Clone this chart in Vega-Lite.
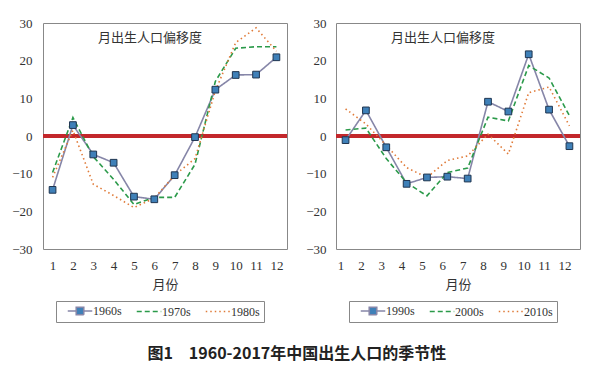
{
  "$schema": "https://vega.github.io/schema/vega-lite/v6.json",
  "background": "white",
  "padding": {"left": 11, "top": 16, "right": 10, "bottom": 5},
  "spacing": 15,
  "title": {"text": "图1　1960-2017年中国出生人口的季节性", "orient": "bottom", "anchor": "middle", "font": "Noto Sans CJK SC", "fontSize": 16, "fontWeight": "bold", "color": "#222", "offset": 23},
  "resolve": {"scale": {"color": "independent", "strokeDash": "independent"}, "legend": {"color": "independent", "strokeDash": "independent"}},
  "hconcat": [
    {
      "width": 244, "height": 226,
      "title": {"text": "月出生人口偏移度", "orient": "top", "anchor": "middle", "offset": -28, "dx": -15, "font": "Noto Sans CJK SC", "fontSize": 13, "fontWeight": "normal", "color": "#333"},
      "data": {"values": [
        {"series": "1960s", "month": 1, "value": -14.3}, {"series": "1960s", "month": 2, "value": 2.9}, {"series": "1960s", "month": 3, "value": -4.9}, {"series": "1960s", "month": 4, "value": -7.1}, {"series": "1960s", "month": 5, "value": -16.1}, {"series": "1960s", "month": 6, "value": -16.8}, {"series": "1960s", "month": 7, "value": -10.4}, {"series": "1960s", "month": 8, "value": -0.3}, {"series": "1960s", "month": 9, "value": 12.3}, {"series": "1960s", "month": 10, "value": 16.2}, {"series": "1960s", "month": 11, "value": 16.3}, {"series": "1960s", "month": 12, "value": 20.9},
        {"series": "1970s", "month": 1, "value": -9.7}, {"series": "1970s", "month": 2, "value": 4.9}, {"series": "1970s", "month": 3, "value": -5.5}, {"series": "1970s", "month": 4, "value": -11.5}, {"series": "1970s", "month": 5, "value": -18.2}, {"series": "1970s", "month": 6, "value": -16.3}, {"series": "1970s", "month": 7, "value": -16.3}, {"series": "1970s", "month": 8, "value": -7.5}, {"series": "1970s", "month": 9, "value": 14.5}, {"series": "1970s", "month": 10, "value": 23.3}, {"series": "1970s", "month": 11, "value": 23.7}, {"series": "1970s", "month": 12, "value": 23.7},
        {"series": "1980s", "month": 1, "value": -11.0}, {"series": "1980s", "month": 2, "value": 1.5}, {"series": "1980s", "month": 3, "value": -12.8}, {"series": "1980s", "month": 4, "value": -15.8}, {"series": "1980s", "month": 5, "value": -19.0}, {"series": "1980s", "month": 6, "value": -16.5}, {"series": "1980s", "month": 7, "value": -10.4}, {"series": "1980s", "month": 8, "value": -6.0}, {"series": "1980s", "month": 9, "value": 12.0}, {"series": "1980s", "month": 10, "value": 24.8}, {"series": "1980s", "month": 11, "value": 28.7}, {"series": "1980s", "month": 12, "value": 22.5}
      ]},
      "layer": [
        {"data": {"values": [{}]}, "mark": {"type": "rule", "color": "#c3272b", "strokeWidth": 4}, "encoding": {"y": {"datum": 0, "type": "quantitative", "scale": {"domain": [-30, 30], "nice": false}}}},
        {
          "mark": {"type": "line", "strokeWidth": 1.6},
          "encoding": {
            "x": {"field": "month", "type": "quantitative", "scale": {"domain": [0.53, 12.52], "nice": false, "zero": false}, "axis": {"values": [1,2,3,4,5,6,7,8,9,10,11,12], "format": "d", "tickCount": 24, "labelOverlap": false, "title": "月份", "labelPadding": 10, "titlePadding": 6}},
            "y": {"field": "value", "type": "quantitative", "scale": {"domain": [-30, 30], "nice": false}, "axis": {"values": [-30,-20,-10,0,10,20,30], "format": "d", "tickCount": 14, "labelOverlap": false, "title": null, "labelPadding": 11}},
            "color": {"field": "series", "type": "nominal", "scale": {"domain": ["1960s","1970s","1980s"], "range": ["#8686a8","#2b9a4a","#e07b39"]},
              "legend": {"orient": "none", "legendX": 13, "legendY": 278, "direction": "horizontal", "title": null, "symbolSize": 100, "symbolStrokeWidth": 1.6, "labelFont": "Liberation Serif", "labelFontSize": 12, "labelColor": "#333", "strokeColor": "#888", "fillColor": "white", "padding": 4, "symbolOffset": 14, "columnPadding": 7, "labelOffset": 7,
                "encode": {"symbols": {"update": {"shape": {"signal": "datum.value === '1960s' ? 'M-2.45,0H-0.75M0.75,0H2.45M-0.75,-0.75H0.75V0.75H-0.75Z' : 'M-2.45,0H2.45'"}, "fill": {"signal": "datum.value === '1960s' ? '#3f80b8' : 'transparent'"}}}}}},
            "strokeDash": {"field": "series", "type": "nominal", "scale": {"domain": ["1960s","1970s","1980s"], "range": [[1,0],[5,3],[1.5,3]]},
              "legend": {"orient": "none", "legendX": 13, "legendY": 278, "direction": "horizontal", "title": null, "symbolSize": 100, "symbolStrokeWidth": 1.6, "labelFont": "Liberation Serif", "labelFontSize": 12, "labelColor": "#333", "strokeColor": "#888", "fillColor": "white", "padding": 4, "symbolOffset": 14, "columnPadding": 7, "labelOffset": 7,
                "encode": {"symbols": {"update": {"shape": {"signal": "datum.value === '1960s' ? 'M-2.45,0H-0.75M0.75,0H2.45M-0.75,-0.75H0.75V0.75H-0.75Z' : 'M-2.45,0H2.45'"}, "fill": {"signal": "datum.value === '1960s' ? '#3f80b8' : 'transparent'"}}}}}}
          }
        },
        {
          "transform": [{"filter": "datum.series === '1960s'"}],
          "mark": {"type": "point", "shape": "square", "filled": true, "fill": "#3f80b8", "stroke": "#1f3550", "strokeWidth": 1, "size": 45, "opacity": 1},
          "encoding": {
            "x": {"field": "month", "type": "quantitative"},
            "y": {"field": "value", "type": "quantitative"}
          }
        }
      ]
    },
    {
      "width": 244, "height": 226,
      "title": {"text": "月出生人口偏移度", "orient": "top", "anchor": "middle", "offset": -28, "dx": -15, "font": "Noto Sans CJK SC", "fontSize": 13, "fontWeight": "normal", "color": "#333"},
      "data": {"values": [
        {"series": "1990s", "month": 1, "value": -1.1}, {"series": "1990s", "month": 2, "value": 6.8}, {"series": "1990s", "month": 3, "value": -3.0}, {"series": "1990s", "month": 4, "value": -12.7}, {"series": "1990s", "month": 5, "value": -11.0}, {"series": "1990s", "month": 6, "value": -10.8}, {"series": "1990s", "month": 7, "value": -11.3}, {"series": "1990s", "month": 8, "value": 9.1}, {"series": "1990s", "month": 9, "value": 6.5}, {"series": "1990s", "month": 10, "value": 21.7}, {"series": "1990s", "month": 11, "value": 7.0}, {"series": "1990s", "month": 12, "value": -2.7},
        {"series": "2000s", "month": 1, "value": 1.6}, {"series": "2000s", "month": 2, "value": 2.1}, {"series": "2000s", "month": 3, "value": -6.0}, {"series": "2000s", "month": 4, "value": -12.4}, {"series": "2000s", "month": 5, "value": -15.9}, {"series": "2000s", "month": 6, "value": -9.7}, {"series": "2000s", "month": 7, "value": -8.5}, {"series": "2000s", "month": 8, "value": 5.0}, {"series": "2000s", "month": 9, "value": 4.0}, {"series": "2000s", "month": 10, "value": 18.7}, {"series": "2000s", "month": 11, "value": 15.4}, {"series": "2000s", "month": 12, "value": 5.4},
        {"series": "2010s", "month": 1, "value": 7.2}, {"series": "2010s", "month": 2, "value": 3.2}, {"series": "2010s", "month": 3, "value": -2.5}, {"series": "2010s", "month": 4, "value": -8.4}, {"series": "2010s", "month": 5, "value": -11.0}, {"series": "2010s", "month": 6, "value": -6.5}, {"series": "2010s", "month": 7, "value": -5.3}, {"series": "2010s", "month": 8, "value": 0.5}, {"series": "2010s", "month": 9, "value": -4.8}, {"series": "2010s", "month": 10, "value": 11.5}, {"series": "2010s", "month": 11, "value": 13.0}, {"series": "2010s", "month": 12, "value": 2.7}
      ]},
      "layer": [
        {"data": {"values": [{}]}, "mark": {"type": "rule", "color": "#c3272b", "strokeWidth": 4}, "encoding": {"y": {"datum": 0, "type": "quantitative", "scale": {"domain": [-30, 30], "nice": false}}}},
        {
          "mark": {"type": "line", "strokeWidth": 1.6},
          "encoding": {
            "x": {"field": "month", "type": "quantitative", "scale": {"domain": [0.53, 12.52], "nice": false, "zero": false}, "axis": {"values": [1,2,3,4,5,6,7,8,9,10,11,12], "format": "d", "tickCount": 24, "labelOverlap": false, "title": "月份", "labelPadding": 10, "titlePadding": 6, "labelOffset": -5}},
            "y": {"field": "value", "type": "quantitative", "scale": {"domain": [-30, 30], "nice": false}, "axis": {"values": [-30,-20,-10,0,10,20,30], "format": "d", "tickCount": 14, "labelOverlap": false, "title": null, "labelPadding": 10}},
            "color": {"field": "series", "type": "nominal", "scale": {"domain": ["1990s","2000s","2010s"], "range": ["#8686a8","#2b9a4a","#e07b39"]},
              "legend": {"orient": "none", "legendX": 13, "legendY": 278, "direction": "horizontal", "title": null, "symbolSize": 100, "symbolStrokeWidth": 1.6, "labelFont": "Liberation Serif", "labelFontSize": 12, "labelColor": "#333", "strokeColor": "#888", "fillColor": "white", "padding": 4, "symbolOffset": 14, "columnPadding": 7, "labelOffset": 7,
                "encode": {"symbols": {"update": {"shape": {"signal": "datum.value === '1990s' ? 'M-2.45,0H-0.75M0.75,0H2.45M-0.75,-0.75H0.75V0.75H-0.75Z' : 'M-2.45,0H2.45'"}, "fill": {"signal": "datum.value === '1990s' ? '#3f80b8' : 'transparent'"}}}}}},
            "strokeDash": {"field": "series", "type": "nominal", "scale": {"domain": ["1990s","2000s","2010s"], "range": [[1,0],[5,3],[1.5,3]]},
              "legend": {"orient": "none", "legendX": 13, "legendY": 278, "direction": "horizontal", "title": null, "symbolSize": 100, "symbolStrokeWidth": 1.6, "labelFont": "Liberation Serif", "labelFontSize": 12, "labelColor": "#333", "strokeColor": "#888", "fillColor": "white", "padding": 4, "symbolOffset": 14, "columnPadding": 7, "labelOffset": 7,
                "encode": {"symbols": {"update": {"shape": {"signal": "datum.value === '1990s' ? 'M-2.45,0H-0.75M0.75,0H2.45M-0.75,-0.75H0.75V0.75H-0.75Z' : 'M-2.45,0H2.45'"}, "fill": {"signal": "datum.value === '1990s' ? '#3f80b8' : 'transparent'"}}}}}}
          }
        },
        {
          "transform": [{"filter": "datum.series === '1990s'"}],
          "mark": {"type": "point", "shape": "square", "filled": true, "fill": "#3f80b8", "stroke": "#1f3550", "strokeWidth": 1, "size": 45, "opacity": 1},
          "encoding": {
            "x": {"field": "month", "type": "quantitative"},
            "y": {"field": "value", "type": "quantitative"}
          }
        }
      ]
    }
  ],
  "config": {
    "view": {"stroke": "#888", "strokeWidth": 1},
    "axis": {"domain": false, "ticks": false, "grid": false, "labelOverlap": false, "labelBound": false, "labelFont": "Liberation Serif", "labelFontSize": 13, "labelColor": "#333", "titleFont": "Noto Sans CJK SC", "titleFontWeight": "normal", "titleFontSize": 13, "titleColor": "#333"}
  }
}
